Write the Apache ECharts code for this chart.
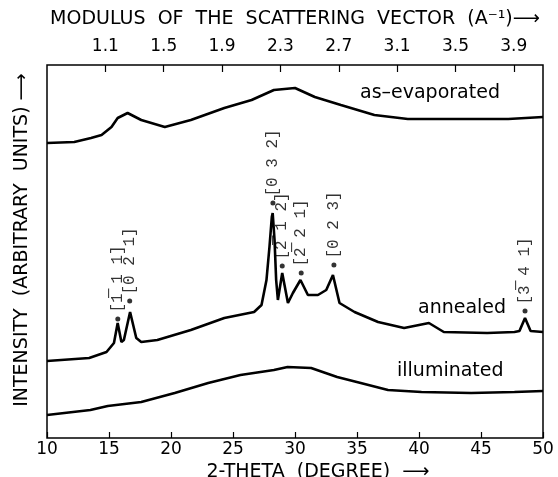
<!DOCTYPE html>
<html>
<head>
<meta charset="utf-8">
<script src="https://cdn.jsdelivr.net/npm/echarts@6/dist/echarts.min.js"></script>
<style>
  html, body { margin: 0; padding: 0; background: #fff; }
  #main { width: 558px; height: 477px; }
</style>
</head>
<body>
<div id="main"></div>
<script>
// 2-theta (degree) vs intensity (arbitrary units, curves stacked with offsets)
var evapX = [10, 12.2, 13.55, 14.4, 15.2, 15.7, 16.5, 17.6, 19.5, 21.6, 24.3, 26.5, 28.3, 30.0, 31.6, 33.7, 36.4, 39.1, 43.1, 47.2, 50];
var evapY = [295, 296, 300, 303, 311, 320, 325, 318, 311, 318, 330, 338, 348, 350, 341, 333, 323, 319, 319, 319, 321];

var annealX = [10, 13.4, 14.8, 15.4, 15.7, 16.0, 16.2, 16.7, 17.2, 17.6, 18.9, 21.6, 24.3, 26.7, 27.3, 27.7, 27.94, 28.13, 28.2, 28.35, 28.48, 28.62, 28.97, 29.43, 29.83, 30.44, 31.04, 31.85, 32.52, 33.06, 33.59, 34.8, 36.7, 38.8, 40.8, 42.0, 45.5, 47.7, 48.1, 48.55, 49.0, 50];
var annealY = [77, 80, 86, 95, 115, 96, 98, 126, 100, 96, 98, 108, 120, 126, 133, 158, 191, 221, 225, 198, 158, 138, 165, 135, 145, 158, 143, 143, 148, 163, 135, 126, 116, 110, 115, 106, 105, 106, 107, 120, 107, 106];

var illumX = [10, 13.5, 14.9, 17.6, 20.3, 23.0, 25.6, 28.3, 29.4, 31.3, 33.4, 35.3, 37.5, 40.2, 44.2, 47.7, 50];
var illumY = [23, 28, 32, 36, 45, 55, 63, 68, 71, 70, 61, 55, 48, 46, 45, 46, 47];

var peakNames = ['[1\u0305 1 1]', '[0 2 1]', '[0 3 2]', '[2\u0305 1 2]', '[2\u0305 2 1]', '[0 2 3]', '[3\u0305 4 1]'];
var peakX = [15.71, 16.67, 28.22, 28.97, 30.5, 33.14, 48.55];
var peakY = [119, 137, 235, 172, 165, 173, 127];

var qTicks = [1.1, 1.5, 1.9, 2.3, 2.7, 3.1, 3.5, 3.9];

function pairs(xs, ys) {
  return xs.map(function (x, i) { return [x, ys[i]]; });
}

var chart = echarts.init(document.getElementById('main'), null, { renderer: 'canvas' });

var font = 'DejaVu Sans';
var option = {
  animation: false,
  backgroundColor: '#fff',
  grid: {
    left: 47, right: 15, top: 65, bottom: 39,
    outerBoundsMode: 'none', containLabel: false,
    show: true, borderColor: '#000', borderWidth: 1.5, backgroundColor: 'transparent'
  },
  xAxis: [{
    type: 'value',
    position: 'bottom',
    min: 10, max: 50, interval: 5,
    axisLine: { show: false },
    axisTick: { inside: true, length: 6, lineStyle: { color: '#000', width: 1.2 } },
    axisLabel: { margin: 3, fontSize: 17, fontFamily: font, color: '#000' },
    splitLine: { show: false },
    name: '2-THETA  (DEGREE)  \u27F6',
    nameLocation: 'middle',
    nameGap: 18,
    nameTextStyle: { fontSize: 19, fontFamily: font, color: '#000', padding: [0, 0, 0, 46] }
  }, {
    type: 'value',
    position: 'top',
    min: 0.7, max: 4.1,
    axisLine: { show: false },
    axisTick: { inside: true, length: 7, customValues: qTicks, lineStyle: { color: '#000', width: 1.2 } },
    axisLabel: {
      customValues: qTicks, margin: 10, fontSize: 17, fontFamily: font, color: '#000',
      formatter: function (v) { return v.toFixed(1); }
    },
    splitLine: { show: false },
    name: 'MODULUS  OF  THE  SCATTERING  VECTOR  (A\u207B\u00B9)\u27F6',
    nameLocation: 'middle',
    nameGap: 36,
    nameTextStyle: { fontSize: 19, fontFamily: font, color: '#000' }
  }],
  yAxis: {
    type: 'value', min: 0, max: 373,
    axisLine: { show: false }, axisTick: { show: false }, axisLabel: { show: false },
    splitLine: { show: false }
  },
  graphic: [
    { type: 'text', x: 22, y: 240, rotation: Math.PI / 2,
      style: { text: 'INTENSITY  (ARBITRARY  UNITS) \u27F6', fontSize: 19, fontFamily: font, fill: '#000', align: 'center', verticalAlign: 'middle' } },
    { type: 'text', x: 360, y: 93,
      style: { text: 'as\u2013evaporated', fontSize: 19, fontFamily: font, fill: '#000', verticalAlign: 'middle' } },
    { type: 'text', x: 418, y: 308,
      style: { text: 'annealed', fontSize: 19, fontFamily: font, fill: '#000', verticalAlign: 'middle' } },
    { type: 'text', x: 397, y: 371,
      style: { text: 'illuminated', fontSize: 19, fontFamily: font, fill: '#000', verticalAlign: 'middle' } }
  ],
  series: [{
    name: 'as-evaporated', type: 'line', showSymbol: false,
    lineStyle: { color: '#000', width: 2.6 },
    data: pairs(evapX, evapY)
  }, {
    name: 'annealed', type: 'line', showSymbol: false,
    lineStyle: { color: '#000', width: 2.6 },
    data: pairs(annealX, annealY)
  }, {
    name: 'illuminated', type: 'line', showSymbol: false,
    lineStyle: { color: '#000', width: 2.6 },
    data: pairs(illumX, illumY)
  }, {
    name: 'peaks', type: 'scatter', symbolSize: 5,
    itemStyle: { color: '#000' },
    label: {
      show: true, position: 'top', distance: 4, rotate: 90,
      align: 'left', verticalAlign: 'middle',
      fontSize: 16, fontFamily: 'Liberation Mono', color: '#000',
      formatter: function (p) { return peakNames[p.dataIndex]; }
    },
    data: pairs(peakX, peakY)
  }]
};

chart.setOption(option);
</script>
</body>
</html>
